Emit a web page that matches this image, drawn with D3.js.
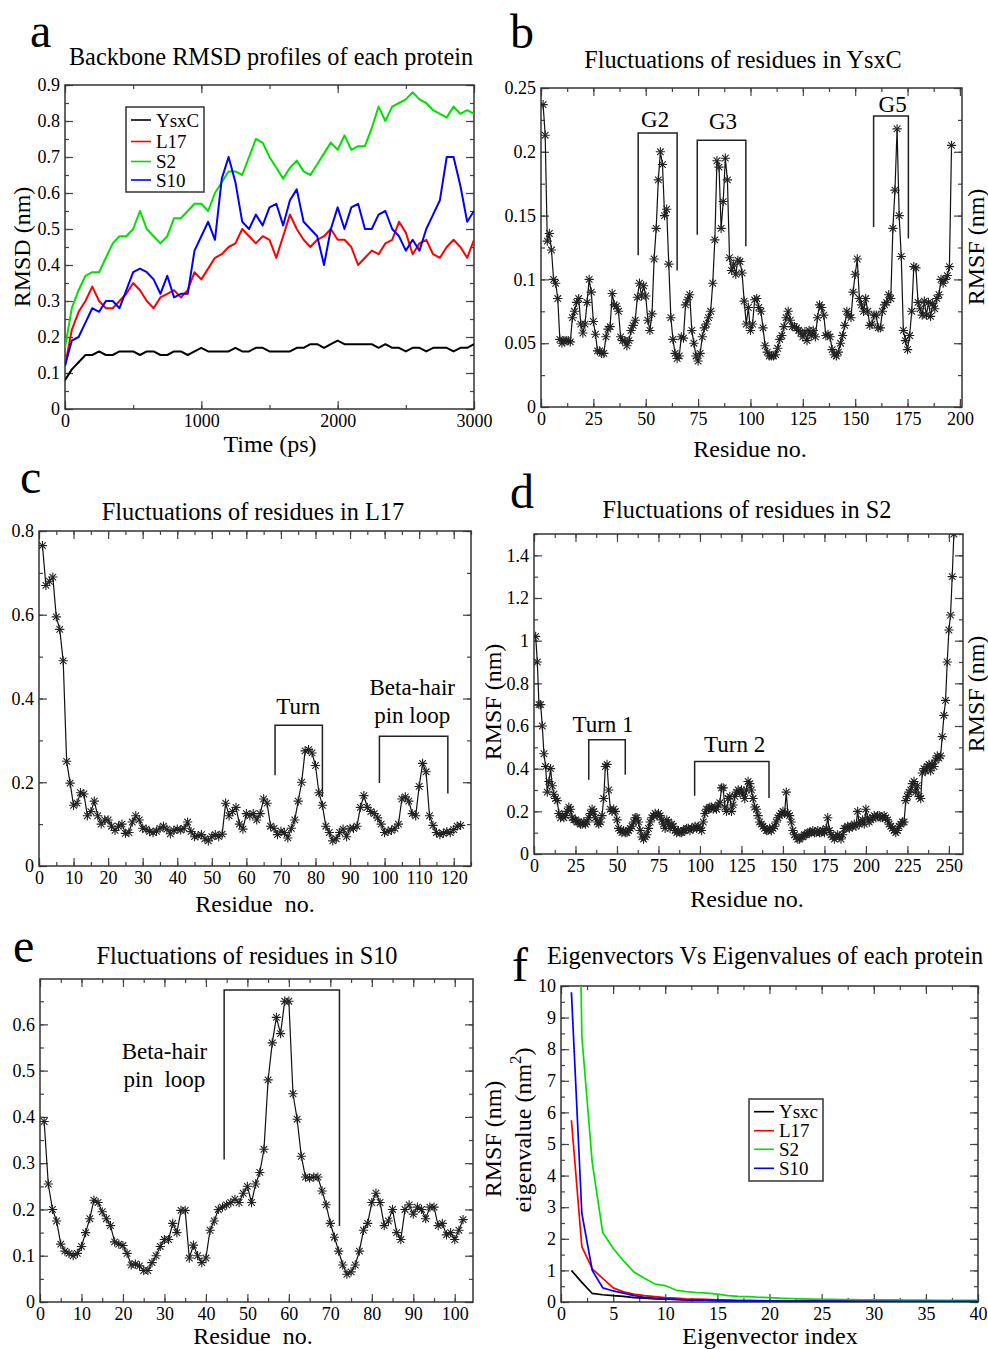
<!DOCTYPE html>
<html>
<head>
<meta charset="utf-8">
<script src="https://cdn.jsdelivr.net/npm/d3@7"></script>
<style>
  body { margin: 0; background: #fff; }
  text { font-family: "Liberation Serif", "Times New Roman", serif; fill: #000; }
  .tick text { font-size: 18px; }
  .tick line { stroke: #444; stroke-width: 1.2; }
</style>
</head>
<body>
<script>
// ---- panel a : backbone RMSD (nm), one value every 50 ps from 0 to 3000 ps
var rmsdTime = d3.range(0, 3001, 50);
var rmsdYsxC = [0.08,0.11,0.13,0.15,0.15,0.16,0.15,0.15,0.16,0.16,0.16,0.15,0.16,0.16,0.15,0.15,0.16,0.16,0.15,0.16,
  0.17,0.16,0.16,0.16,0.16,0.17,0.16,0.16,0.17,0.17,0.16,0.16,0.16,0.16,0.17,0.17,0.18,0.18,0.17,0.18,
  0.19,0.18,0.18,0.18,0.18,0.18,0.17,0.18,0.17,0.17,0.16,0.17,0.17,0.16,0.17,0.17,0.17,0.16,0.17,0.17,0.18];
var rmsdL17 = [0.12,0.22,0.27,0.30,0.34,0.30,0.28,0.28,0.30,0.32,0.35,0.33,0.30,0.28,0.31,0.32,0.33,0.31,0.33,0.38,
  0.36,0.39,0.42,0.43,0.45,0.46,0.50,0.48,0.46,0.48,0.47,0.42,0.48,0.54,0.50,0.47,0.45,0.47,0.48,0.50,
  0.47,0.47,0.45,0.40,0.42,0.44,0.43,0.46,0.47,0.52,0.49,0.43,0.46,0.47,0.43,0.42,0.45,0.47,0.45,0.42,0.47];
var rmsdS2 = [0.17,0.28,0.33,0.37,0.38,0.38,0.42,0.46,0.48,0.48,0.50,0.55,0.50,0.48,0.46,0.48,0.53,0.53,0.55,0.57,
  0.57,0.55,0.60,0.63,0.66,0.66,0.65,0.70,0.75,0.74,0.70,0.67,0.64,0.67,0.69,0.66,0.65,0.68,0.71,0.74,
  0.72,0.76,0.72,0.73,0.73,0.78,0.84,0.80,0.84,0.85,0.86,0.88,0.86,0.85,0.83,0.82,0.81,0.84,0.82,0.83,0.82];
var rmsdS10 = [0.12,0.19,0.20,0.24,0.28,0.27,0.30,0.30,0.28,0.33,0.38,0.39,0.38,0.36,0.32,0.37,0.31,0.32,0.32,0.44,
  0.48,0.52,0.47,0.64,0.70,0.63,0.52,0.50,0.54,0.51,0.56,0.57,0.51,0.58,0.61,0.52,0.50,0.48,0.40,0.50,
  0.56,0.50,0.56,0.57,0.50,0.50,0.54,0.55,0.50,0.48,0.44,0.47,0.44,0.50,0.54,0.58,0.70,0.70,0.62,0.52,0.55];
var rmsdNames = ["YsxC", "L17", "S2", "S10"];
var seriesColors = ["#000000", "#ff0000", "#00e000", "#0000ff"];

// ---- panel b : RMSF of YsxC, residue 1..n
var rmsfYsxC = [0.237,0.213,0.13,0.136,0.123,0.1,0.097,0.085,0.053,0.05,
  0.052,0.052,0.052,0.051,0.07,0.075,0.082,0.085,0.065,0.058,
  0.065,0.082,0.1,0.09,0.067,0.057,0.044,0.044,0.042,0.042,
  0.055,0.061,0.063,0.089,0.08,0.079,0.075,0.055,0.052,0.052,
  0.048,0.052,0.06,0.064,0.068,0.086,0.097,0.087,0.095,0.087,
  0.068,0.06,0.073,0.116,0.14,0.178,0.2,0.19,0.15,0.155,
  0.112,0.07,0.053,0.042,0.038,0.04,0.055,0.054,0.08,0.084,
  0.088,0.06,0.05,0.04,0.036,0.042,0.055,0.062,0.065,0.07,
  0.075,0.097,0.131,0.193,0.188,0.14,0.161,0.195,0.178,0.117,
  0.107,0.112,0.104,0.115,0.114,0.105,0.083,0.065,0.078,0.06,
  0.065,0.084,0.085,0.078,0.075,0.062,0.048,0.043,0.04,0.04,
  0.04,0.041,0.046,0.053,0.056,0.063,0.07,0.075,0.068,0.063,
  0.063,0.062,0.06,0.058,0.055,0.059,0.052,0.06,0.056,0.06,
  0.055,0.07,0.08,0.078,0.072,0.056,0.057,0.055,0.045,0.041,
  0.04,0.043,0.05,0.056,0.064,0.075,0.072,0.07,0.09,0.104,
  0.116,0.085,0.08,0.075,0.085,0.075,0.064,0.065,0.072,0.072,
  0.062,0.062,0.075,0.08,0.082,0.088,0.085,0.14,0.17,0.218,
  0.15,0.118,0.06,0.052,0.045,0.056,0.075,0.11,0.109,0.082,
  0.077,0.072,0.083,0.072,0.082,0.071,0.081,0.077,0.085,0.088,
  0.1,0.097,0.1,0.103,0.11,0.205];

// ---- panel c : RMSF of L17
var rmsfL17 = [0.765,0.67,0.68,0.69,0.595,0.565,0.49,0.25,0.198,0.145,
  0.15,0.175,0.172,0.12,0.13,0.155,0.12,0.1,0.11,0.11,
  0.095,0.085,0.095,0.1,0.078,0.08,0.105,0.12,0.11,0.09,
  0.088,0.082,0.08,0.083,0.09,0.095,0.088,0.077,0.085,0.088,
  0.086,0.09,0.105,0.082,0.07,0.072,0.075,0.065,0.06,0.07,
  0.075,0.07,0.076,0.15,0.12,0.13,0.14,0.1,0.088,0.125,
  0.12,0.125,0.11,0.125,0.16,0.15,0.095,0.09,0.075,0.083,
  0.08,0.067,0.09,0.11,0.155,0.2,0.275,0.278,0.27,0.24,
  0.175,0.145,0.095,0.08,0.06,0.065,0.08,0.088,0.07,0.09,
  0.09,0.095,0.14,0.168,0.14,0.13,0.125,0.115,0.1,0.08,
  0.083,0.085,0.09,0.1,0.16,0.165,0.155,0.125,0.12,0.19,
  0.245,0.225,0.12,0.097,0.08,0.075,0.078,0.082,0.08,0.087,
  0.095,0.097];

// ---- panel d : RMSF of S2
var rmsfS2 = [1.02,0.9,0.7,0.7,0.6,0.47,0.41,0.29,0.34,0.4,
  0.32,0.28,0.26,0.25,0.19,0.17,0.18,0.17,0.18,0.2,
  0.22,0.21,0.17,0.16,0.16,0.15,0.15,0.14,0.14,0.15,
  0.14,0.15,0.17,0.19,0.21,0.2,0.17,0.15,0.14,0.15,
  0.18,0.26,0.41,0.42,0.3,0.21,0.2,0.21,0.2,0.16,
  0.12,0.11,0.1,0.11,0.1,0.1,0.11,0.12,0.13,0.15,
  0.17,0.17,0.15,0.11,0.08,0.07,0.08,0.09,0.12,0.15,
  0.17,0.18,0.19,0.18,0.19,0.18,0.16,0.14,0.12,0.16,
  0.15,0.12,0.14,0.13,0.11,0.1,0.11,0.1,0.1,0.11,
  0.11,0.12,0.12,0.11,0.12,0.12,0.13,0.12,0.13,0.12,
  0.11,0.15,0.19,0.21,0.21,0.22,0.22,0.21,0.22,0.21,
  0.23,0.24,0.31,0.31,0.22,0.2,0.26,0.27,0.2,0.23,
  0.27,0.29,0.3,0.29,0.3,0.28,0.26,0.3,0.34,0.33,
  0.3,0.26,0.22,0.21,0.18,0.15,0.14,0.13,0.12,0.11,
  0.11,0.12,0.11,0.12,0.13,0.15,0.17,0.18,0.19,0.2,
  0.19,0.29,0.19,0.18,0.15,0.11,0.09,0.08,0.07,0.07,
  0.08,0.08,0.09,0.09,0.1,0.1,0.1,0.11,0.1,0.1,
  0.11,0.1,0.1,0.11,0.1,0.12,0.17,0.11,0.09,0.08,
  0.07,0.08,0.09,0.08,0.07,0.09,0.12,0.12,0.13,0.12,
  0.13,0.13,0.14,0.13,0.2,0.14,0.15,0.16,0.14,0.21,
  0.17,0.15,0.16,0.17,0.18,0.17,0.18,0.18,0.17,0.17,
  0.18,0.17,0.16,0.14,0.13,0.12,0.11,0.1,0.11,0.13,
  0.14,0.15,0.15,0.25,0.27,0.29,0.3,0.33,0.34,0.29,
  0.32,0.27,0.26,0.38,0.4,0.39,0.41,0.42,0.39,0.42,
  0.41,0.44,0.46,0.45,0.46,0.55,0.65,0.72,0.9,1.05,
  1.12,1.3,1.5];

// ---- panel e : RMSF of S10
var rmsfS10 = [0.39,0.255,0.2,0.175,0.125,0.11,0.105,0.1,0.105,0.12,
  0.15,0.18,0.22,0.215,0.195,0.18,0.165,0.13,0.125,0.122,
  0.105,0.08,0.082,0.078,0.068,0.068,0.085,0.1,0.12,0.135,
  0.135,0.17,0.15,0.198,0.198,0.095,0.123,0.1,0.085,0.095,
  0.155,0.175,0.2,0.205,0.21,0.215,0.222,0.215,0.235,0.25,
  0.215,0.255,0.28,0.33,0.48,0.56,0.615,0.58,0.65,0.65,
  0.45,0.395,0.315,0.27,0.268,0.27,0.27,0.24,0.21,0.17,
  0.14,0.11,0.08,0.06,0.065,0.08,0.11,0.155,0.17,0.215,
  0.235,0.215,0.165,0.175,0.2,0.15,0.135,0.2,0.21,0.19,
  0.205,0.2,0.18,0.205,0.205,0.165,0.17,0.145,0.15,0.135,
  0.155,0.178];

// ---- panel f : eigenvalues (nm^2) for eigenvector index 1..40
var eigYsxc = [1.0,0.62,0.27,0.23,0.2,0.18,0.14,0.12,0.1,0.09,0.08,0.07,0.06,0.055,0.05,0.045,0.04,0.04,0.035,0.03,
  0.03,0.03,0.028,0.027,0.026,0.025,0.025,0.024,0.023,0.022,0.022,0.021,0.021,0.02,0.02,0.02,0.02,0.02,0.02,0.02];
var eigL17 = [5.75,1.75,1.05,0.75,0.45,0.32,0.25,0.2,0.17,0.14,0.12,0.1,0.09,0.08,0.07,0.06,0.055,0.05,0.045,0.04,
  0.04,0.035,0.035,0.03,0.03,0.03,0.028,0.027,0.026,0.025,0.025,0.024,0.023,0.022,0.022,0.021,0.02,0.02,0.02,0.02];
var eigS2 = [30,8.4,4.4,2.2,1.7,1.3,0.95,0.75,0.57,0.52,0.38,0.33,0.3,0.28,0.25,0.2,0.18,0.17,0.15,0.14,
  0.12,0.11,0.1,0.09,0.085,0.08,0.078,0.075,0.072,0.07,0.068,0.065,0.062,0.06,0.058,0.056,0.055,0.053,0.052,0.05];
var eigS10 = [9.8,2.8,1.0,0.45,0.35,0.28,0.2,0.15,0.12,0.1,0.08,0.07,0.06,0.055,0.05,0.045,0.04,0.04,0.035,0.035,
  0.03,0.03,0.03,0.028,0.027,0.026,0.025,0.024,0.023,0.022,0.022,0.021,0.021,0.02,0.02,0.02,0.02,0.02,0.02,0.02];
var eigNames = ["Ysxc", "L17", "S2", "S10"];

// ---- annotation brackets (data units): from, to, top, left foot, right foot
var bracketsB = [
  {x1: 46.4, x2: 65, top: 0.2148, yl: 0.119, yr: 0.107, label: ["G2"], lx: 54.5, ly: 0.2195},
  {x1: 74.6, x2: 97.8, top: 0.209, yl: 0.135, yr: 0.126, label: ["G3"], lx: 86.9, ly: 0.2175},
  {x1: 158.8, x2: 175.4, top: 0.228, yl: 0.141, yr: 0.132, label: ["G5"], lx: 167.9, ly: 0.2313}
];
var bracketsC = [
  {x1: 68.3, x2: 82, top: 0.336, yl: 0.217, yr: 0.165, label: ["Turn"], lx: 75, ly: 0.364},
  {x1: 98.5, x2: 118.3, top: 0.31, yl: 0.198, yr: 0.173, label: ["Beta-hair", "pin loop"], lx: 108, ly: 0.408}
];
var bracketsD = [
  {x1: 33, x2: 55, top: 0.535, yl: 0.348, yr: 0.371, label: ["Turn 1"], lx: 41.6, ly: 0.574},
  {x1: 96.8, x2: 141.6, top: 0.434, yl: 0.273, yr: 0.262, label: ["Turn 2"], lx: 120.9, ly: 0.48}
];
var bracketsE = [
  {x1: 44.4, x2: 72.2, top: 0.674, yl: 0.308, yr: 0.164, label: ["Beta-hair", "pin  loop"], lx: 30, ly: 0.525}
];

var svg = d3.select("body").append("svg")
    .attr("width", 988)
    .attr("height", 1349);

svg.append("rect").attr("width", 988).attr("height", 1349).attr("fill", "#fff");

var clipId = 0;

// tick values every `step` inside the domain
function stepTicks(domain, step) {
  var n = Math.floor(domain[1] / step + 1e-9);
  return d3.range(0, n + 1).map(function(i) { return +(i * step).toFixed(4); });
}

function fmt(d) { return String(+d.toFixed(3)); }

// build one framed xmgrace-style panel and return its scales
function panel(p) {
  var x = d3.scaleLinear().domain(p.xDomain).range([p.left, p.right]);
  var y = d3.scaleLinear().domain(p.yDomain).range([p.bottom, p.top]);
  var g = svg.append("g");

  var xMaj = stepTicks(p.xDomain, p.xStep), xMin = stepTicks(p.xDomain, p.xStep / 2);
  var yMaj = stepTicks(p.yDomain, p.yStep), yMin = stepTicks(p.yDomain, p.yStep / 2);

  g.append("g").attr("transform", "translate(0," + p.bottom + ")")
    .call(d3.axisBottom(x).tickValues(xMin).tickSize(-4).tickFormat(""));
  g.append("g").attr("transform", "translate(0," + p.bottom + ")")
    .call(d3.axisBottom(x).tickValues(xMaj).tickSize(-8).tickPadding(5).tickFormat(fmt));
  g.append("g").attr("transform", "translate(0," + p.top + ")")
    .call(d3.axisTop(x).tickValues(xMin).tickSize(-4).tickFormat(""));
  g.append("g").attr("transform", "translate(0," + p.top + ")")
    .call(d3.axisTop(x).tickValues(xMaj).tickSize(-8).tickFormat(""));
  g.append("g").attr("transform", "translate(" + p.left + ",0)")
    .call(d3.axisLeft(y).tickValues(yMin).tickSize(-4).tickFormat(""));
  g.append("g").attr("transform", "translate(" + p.left + ",0)")
    .call(d3.axisLeft(y).tickValues(yMaj).tickSize(-8).tickPadding(5).tickFormat(fmt));
  g.append("g").attr("transform", "translate(" + p.right + ",0)")
    .call(d3.axisRight(y).tickValues(yMin).tickSize(-4).tickFormat(""));
  g.append("g").attr("transform", "translate(" + p.right + ",0)")
    .call(d3.axisRight(y).tickValues(yMaj).tickSize(-8).tickFormat(""));
  g.selectAll(".domain").remove();

  g.append("rect")
    .attr("x", p.left).attr("y", p.top)
    .attr("width", p.right - p.left).attr("height", p.bottom - p.top)
    .attr("fill", "none").attr("stroke", "#333").attr("stroke-width", 1.5);

  var id = "clip" + (clipId++);
  svg.append("clipPath").attr("id", id).append("rect")
    .attr("x", p.left).attr("y", p.top)
    .attr("width", p.right - p.left).attr("height", p.bottom - p.top);
  var plot = g.append("g").attr("clip-path", "url(#" + id + ")");

  // panel letter and title
  svg.append("text").attr("x", p.letter[0]).attr("y", p.letter[1])
    .attr("font-size", 48).text(p.name);
  svg.append("text").attr("x", p.title[0]).attr("y", p.title[1])
    .attr("text-anchor", "middle").attr("font-size", 24.3).text(p.titleText);
  if (p.xLabel) {
    svg.append("text").attr("x", p.xLabel[0]).attr("y", p.xLabel[1])
      .attr("text-anchor", "middle").attr("font-size", 24)
      .attr("xml:space", "preserve").text(p.xLabel[2]);
  }
  (p.yLabels || []).forEach(function(l) {
    svg.append("text")
      .attr("transform", "translate(" + l[0] + "," + l[1] + ") rotate(-90)")
      .attr("text-anchor", "middle").attr("font-size", 24).text(l[2]);
  });
  return {g: g, plot: plot, x: x, y: y};
}

// RMSF profile: black line with star markers
function rmsfSeries(pn, values) {
  var pts = values.map(function(v, i) { return [i + 1, v]; });
  pn.plot.append("path")
    .datum(pts)
    .attr("fill", "none").attr("stroke", "#111").attr("stroke-width", 1.2)
    .attr("d", d3.line().x(function(d) { return pn.x(d[0]); }).y(function(d) { return pn.y(d[1]); }));
  [d3.symbolPlus, d3.symbolTimes].forEach(function(sym) {
    pn.plot.append("g").selectAll("path")
      .data(pts)
      .enter().append("path")
        .attr("transform", function(d) { return "translate(" + pn.x(d[0]) + "," + pn.y(d[1]) + ")"; })
        .attr("d", d3.symbol(sym, 30))
        .attr("fill", "none").attr("stroke", "#222").attr("stroke-width", 1.1);
  });
}

function brackets(pn, list) {
  list.forEach(function(b) {
    pn.g.append("path")
      .attr("d", "M" + pn.x(b.x1) + "," + pn.y(b.yl) + "V" + pn.y(b.top) +
                 "H" + pn.x(b.x2) + "V" + pn.y(b.yr))
      .attr("fill", "none").attr("stroke", "#222").attr("stroke-width", 1.5);
    b.label.forEach(function(t, i) {
      pn.g.append("text")
        .attr("x", pn.x(b.lx)).attr("y", pn.y(b.ly) + i * 28)
        .attr("text-anchor", "middle").attr("font-size", 23)
        .attr("xml:space", "preserve").text(t);
    });
  });
}

function legend(pn, box, names, rowY) {
  pn.g.append("rect")
    .attr("x", box[0]).attr("y", box[1]).attr("width", box[2]).attr("height", box[3])
    .attr("fill", "#fff").attr("stroke", "#333").attr("stroke-width", 1.5);
  names.forEach(function(n, i) {
    var yy = box[1] + rowY[i];
    pn.g.append("line")
      .attr("x1", box[0] + 5).attr("x2", box[0] + 25).attr("y1", yy).attr("y2", yy)
      .attr("stroke", seriesColors[i]).attr("stroke-width", 1.6);
    pn.g.append("text")
      .attr("x", box[0] + 30).attr("y", yy + 6.5)
      .attr("font-size", 19).text(n);
  });
}

// ---- a
var pa = panel({
  left: 65, right: 474, top: 85, bottom: 409,
  xDomain: [0, 3000], yDomain: [0, 0.9], xStep: 1000, yStep: 0.1,
  name: "a", letter: [30, 47], titleText: "Backbone RMSD profiles of each protein", title: [271, 65],
  xLabel: [270, 452, "Time (ps)"], yLabels: [[30, 247, "RMSD (nm)"]]
});
[rmsdYsxC, rmsdL17, rmsdS2, rmsdS10].forEach(function(s, k) {
  pa.plot.append("path")
    .datum(s)
    .attr("fill", "none").attr("stroke", seriesColors[k]).attr("stroke-width", 2)
    .attr("stroke-linejoin", "round")
    .attr("d", d3.line().x(function(d, i) { return pa.x(rmsdTime[i]); }).y(function(d) { return pa.y(d); }));
});
legend(pa, [126, 107, 78, 85], rmsdNames, [13, 34.5, 54.5, 73]);

// ---- b
var pb = panel({
  left: 541, right: 962, top: 88, bottom: 407,
  xDomain: [0, 201], yDomain: [0, 0.25], xStep: 25, yStep: 0.05,
  name: "b", letter: [510, 48], titleText: "Fluctuations of residues in YsxC", title: [743, 68],
  xLabel: [750, 457, "Residue no."], yLabels: [[984, 247, "RMSF (nm)"]]
});
rmsfSeries(pb, rmsfYsxC);
brackets(pb, bracketsB);

// ---- c
var pc = panel({
  left: 39, right: 471, top: 531, bottom: 866,
  xDomain: [0, 125], yDomain: [0, 0.8], xStep: 10, yStep: 0.2,
  name: "c", letter: [20, 493], titleText: "Fluctuations of residues in L17", title: [253, 520],
  xLabel: [255, 912, "Residue  no."], yLabels: [[501, 702, "RMSF (nm)"]]
});
rmsfSeries(pc, rmsfL17);
brackets(pc, bracketsC);

// ---- d
var pd = panel({
  left: 534, right: 963, top: 534, bottom: 854,
  xDomain: [0, 258.5], yDomain: [0, 1.5], xStep: 25, yStep: 0.2,
  name: "d", letter: [510, 508], titleText: "Fluctuations of residues in S2", title: [747, 518],
  xLabel: [747, 907, "Residue no."], yLabels: [[984, 694, "RMSF (nm)"]]
});
rmsfSeries(pd, rmsfS2);
brackets(pd, bracketsD);

// ---- e (top of the frame, 0.7, carries no label)
var pe = panel({
  left: 40, right: 473, top: 979, bottom: 1302,
  xDomain: [0, 104.4], yDomain: [0, 0.698], xStep: 10, yStep: 0.1,
  name: "e", letter: [13, 962], titleText: "Fluctuations of residues in S10", title: [247, 964],
  xLabel: [253, 1344, "Residue  no."], yLabels: [[501, 1139, "RMSF (nm)"]]
});
rmsfSeries(pe, rmsfS10);
brackets(pe, bracketsE);

// ---- f
var pf = panel({
  left: 561, right: 978, top: 986, bottom: 1302,
  xDomain: [0, 40], yDomain: [0, 10], xStep: 5, yStep: 1,
  name: "f", letter: [512, 981], titleText: "Eigenvectors Vs Eigenvalues of each protein", title: [765, 964],
  xLabel: [770, 1344, "Eigenvector index"]
});
var yLabF = svg.append("text")
    .attr("transform", "translate(531,1130) rotate(-90)")
    .attr("text-anchor", "middle").attr("font-size", 24);
yLabF.append("tspan").text("eigenvalue (nm");
yLabF.append("tspan").attr("dy", -10).attr("font-size", 17).text("2");
yLabF.append("tspan").attr("dy", 10).text(")");
[eigYsxc, eigL17, eigS2, eigS10].forEach(function(s, k) {
  pf.plot.append("path")
    .datum(s)
    .attr("fill", "none").attr("stroke", seriesColors[k]).attr("stroke-width", 1.7)
    .attr("d", d3.line().x(function(d, i) { return pf.x(i + 1); }).y(function(d) { return pf.y(d); }));
});
legend(pf, [749, 1099, 74, 82], eigNames, [12.7, 31.7, 50.3, 69.3]);
</script>
</body>
</html>
